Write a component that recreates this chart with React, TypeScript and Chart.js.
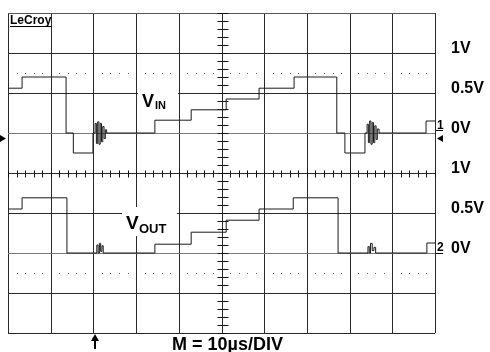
import { useEffect, useRef } from "react";
import { Chart, registerables } from "chart.js";

Chart.register(...registerables);

// Time axis: 10 divisions × 10 µs
const TIME_MIN_US = 0;
const TIME_MAX_US = 100;
const TIME_DIV_US = 10;

// Channel 1 (V_IN): 0.5 V/div
const CH1_MIN_V = -2.5;
const CH1_MAX_V = 1.5;
// Channel 2 (V_OUT): 0.5 V/div
const CH2_MIN_V = -1;
const CH2_MAX_V = 3;
const VOLTS_PER_DIV = 0.5;

// V_IN trace: transition times (µs) and the level (V) that starts there
const vinTimes = [
  0, 3.3, 13.6, 15.3, 19.9,
  20.4, 20.7, 21.0, 21.3, 21.6, 21.9, 22.2, 22.5, 22.8, 23.1,
  34.4, 42.9, 51.1, 58.8, 67.0, 77.0, 78.9, 83.6,
  84.1, 84.4, 84.7, 85.0, 85.3, 85.6, 85.9, 86.2, 86.5, 86.9,
  97.9, 100,
];
const vinVolts = [
  0.56, 0.7, 0.0, -0.25, 0.0,
  0.12, -0.13, 0.14, -0.14, 0.12, -0.11, 0.08, -0.07, 0.04, 0.0,
  0.16, 0.29, 0.425, 0.56, 0.7, 0.0, -0.25, 0.0,
  0.11, -0.12, 0.15, -0.14, 0.13, -0.12, 0.09, -0.08, 0.05, 0.0,
  0.15, 0.15,
];

// V_OUT trace
const voutTimes = [
  0, 3.3, 13.8,
  20.8, 21.1, 21.4, 21.7, 22.0, 22.3,
  34.4, 42.9, 51.1, 58.8, 66.8, 77.3,
  84.3, 84.6, 84.9, 85.3, 85.7, 86.1,
  98.1, 100,
];
const voutVolts = [
  0.55, 0.69, 0.0,
  0.1, 0.0, 0.12, 0.02, 0.09, 0.0,
  0.11, 0.26, 0.41, 0.55, 0.69, 0.0,
  0.08, 0.0, 0.12, 0.03, 0.07, 0.0,
  0.125, 0.125,
];

// Right-hand volt labels
const ch1LabelVolts = [1, 0.5, 0];
const ch1LabelTexts = ["1V", "0.5V", "0V"];
const ch2LabelVolts = [1, 0.5, 0];
const ch2LabelTexts = ["1V", "0.5V", "0V"];

const FONT = '"Liberation Sans", Arial, Helvetica, sans-serif';

const scopePlugin = {
  id: "scopeScreen",
  beforeDatasetsDraw(chart: any) {
    const { ctx, chartArea } = chart;
    const xs = chart.scales.x;
    const y1 = chart.scales.y1;
    const y2 = chart.scales.y2;
    const { left, right, top, bottom } = chartArea;
    const snap = (v: number) => Math.round(v) + 0.5;
    ctx.save();

    // dotted reference lines
    ctx.fillStyle = "#666";
    const dotRows = [snap(y1.getPixelForValue(0.75)), snap(y2.getPixelForValue(-0.25))];
    for (const yy of dotRows) {
      for (let t = TIME_MIN_US; t <= TIME_MAX_US; t += 2) {
        if (t % TIME_DIV_US === 0) continue;
        const px = Math.round(xs.getPixelForValue(t));
        ctx.fillRect(px, Math.floor(yy), 1, 1);
      }
    }

    // grid
    ctx.lineWidth = 1;
    ctx.strokeStyle = "#2a2a2a";
    for (let t = TIME_MIN_US; t <= TIME_MAX_US; t += TIME_DIV_US) {
      const px = snap(xs.getPixelForValue(t));
      ctx.beginPath();
      ctx.moveTo(px, top);
      ctx.lineTo(px, bottom);
      ctx.stroke();
    }
    for (let v = CH1_MIN_V; v <= CH1_MAX_V + 1e-6; v += VOLTS_PER_DIV) {
      const py = snap(y1.getPixelForValue(v));
      ctx.strokeStyle = Math.abs(v) < 1e-6 ? "#7a7a7a" : "#2a2a2a";
      ctx.beginPath();
      ctx.moveTo(left, py);
      ctx.lineTo(right, py);
      ctx.stroke();
    }
    // ch2 ground line (gray)
    {
      const py = snap(y2.getPixelForValue(0));
      ctx.strokeStyle = "#7a7a7a";
      ctx.beginPath();
      ctx.moveTo(left, py);
      ctx.lineTo(right, py);
      ctx.stroke();
    }
    // top border slightly gray
    ctx.strokeStyle = "#555";
    ctx.beginPath();
    ctx.moveTo(left, snap(top));
    ctx.lineTo(right, snap(top));
    ctx.stroke();

    // centre crosshair ticks
    const cx = snap(xs.getPixelForValue((TIME_MIN_US + TIME_MAX_US) / 2));
    const cy = snap(y1.getPixelForValue(CH1_MIN_V + 4 * VOLTS_PER_DIV));
    ctx.strokeStyle = "#111";
    ctx.beginPath();
    for (let t = TIME_MIN_US; t <= TIME_MAX_US; t += 2) {
      const px = snap(xs.getPixelForValue(t));
      ctx.moveTo(px, cy - 3);
      ctx.lineTo(px, cy + 4);
    }
    for (let v = CH1_MIN_V; v <= CH1_MAX_V + 1e-6; v += VOLTS_PER_DIV / 5) {
      const py = snap(y1.getPixelForValue(v));
      ctx.moveTo(cx - 5, py);
      ctx.lineTo(cx + 6, py);
    }
    ctx.stroke();

    // white boxes behind the trace names
    ctx.fillStyle = "#fff";
    ctx.fillRect(138, 86, 40, 27);
    ctx.fillRect(122, 207, 55, 29);

    ctx.fillStyle = "#000";
    ctx.textBaseline = "alphabetic";
    ctx.textAlign = "left";
    // V_IN
    ctx.font = `bold 18px ${FONT}`;
    ctx.fillText("V", 142, 107);
    ctx.font = `bold 11px ${FONT}`;
    ctx.fillText("IN", 155, 109);
    // V_OUT
    ctx.font = `bold 19px ${FONT}`;
    ctx.fillText("V", 126, 229);
    ctx.font = `bold 13px ${FONT}`;
    ctx.fillText("OUT", 139, 233);

    // LeCroy logo
    ctx.font = `bold 12px ${FONT}`;
    ctx.fillText("LeCroy", 10, 24);
    const lw = ctx.measureText("LeCroy").width;
    ctx.fillRect(10, 26, lw, 1);

    // right-hand labels
    ctx.font = `bold 16px ${FONT}`;
    ch1LabelVolts.forEach((v, i) => {
      ctx.fillText(ch1LabelTexts[i], 451, Math.round(y1.getPixelForValue(v)));
    });
    ch2LabelVolts.forEach((v, i) => {
      ctx.fillText(ch2LabelTexts[i], 451, Math.round(y2.getPixelForValue(v)));
    });

    // channel markers
    ctx.font = `bold 12px ${FONT}`;
    const g1 = Math.round(y1.getPixelForValue(0));
    const g2 = Math.round(y2.getPixelForValue(0));
    ctx.fillText("1", 437, g1 - 4);
    ctx.fillRect(436, g1 - 3, 7, 1);
    ctx.fillText("2", 437, g2 - 2);
    ctx.fillRect(436, g2, 7, 1);

    // trigger level arrows
    ctx.beginPath();
    ctx.moveTo(0, g1 + 2);
    ctx.lineTo(0, g1 + 9);
    ctx.lineTo(6, g1 + 5.5);
    ctx.closePath();
    ctx.fill();
    ctx.beginPath();
    ctx.moveTo(437, g1 + 5.5);
    ctx.lineTo(443, g1 + 2);
    ctx.lineTo(443, g1 + 9);
    ctx.closePath();
    ctx.fill();

    // trigger position arrow
    const tx = Math.round(xs.getPixelForValue(20.4));
    ctx.fillRect(tx - 1, 338, 2, 11);
    ctx.beginPath();
    ctx.moveTo(tx - 4, 341);
    ctx.lineTo(tx + 4, 341);
    ctx.lineTo(tx, 334);
    ctx.closePath();
    ctx.fill();

    // timebase
    ctx.font = `bold 18px ${FONT}`;
    ctx.fillText("M = 10\u00b5s/DIV", 172, 350);

    ctx.restore();
  },
};

export default function App() {
  const canvasRef = useRef<HTMLCanvasElement | null>(null);

  useEffect(() => {
    if (!canvasRef.current) return;
    const vinData = vinTimes.map((t, i) => ({ x: t, y: vinVolts[i] }));
    const voutData = voutTimes.map((t, i) => ({ x: t, y: voutVolts[i] }));
    const chart = new Chart(canvasRef.current, {
      type: "line",
      data: {
        datasets: [
          {
            label: "VIN",
            data: vinData,
            yAxisID: "y1",
            stepped: "before",
            borderColor: "#1a1a1a",
            borderWidth: 1,
            pointRadius: 0,
            fill: false,
          },
          {
            label: "VOUT",
            data: voutData,
            yAxisID: "y2",
            stepped: "before",
            borderColor: "#1a1a1a",
            borderWidth: 1,
            pointRadius: 0,
            fill: false,
          },
        ],
      },
      options: {
        animation: false,
        responsive: false,
        events: [],
        layout: { padding: { left: 8, top: 13, right: 55, bottom: 19 } },
        plugins: { legend: { display: false }, tooltip: { enabled: false } },
        scales: {
          x: { type: "linear", min: TIME_MIN_US, max: TIME_MAX_US, display: false },
          y1: { type: "linear", min: CH1_MIN_V, max: CH1_MAX_V, display: false },
          y2: { type: "linear", min: CH2_MIN_V, max: CH2_MAX_V, display: false },
        },
      },
      plugins: [scopePlugin],
    });
    return () => chart.destroy();
  }, []);

  return (
    <div style={{ position: "absolute", left: 0, top: 0, width: 490, height: 352, background: "#fff" }}>
      <canvas ref={canvasRef} width={490} height={352} />
    </div>
  );
}
